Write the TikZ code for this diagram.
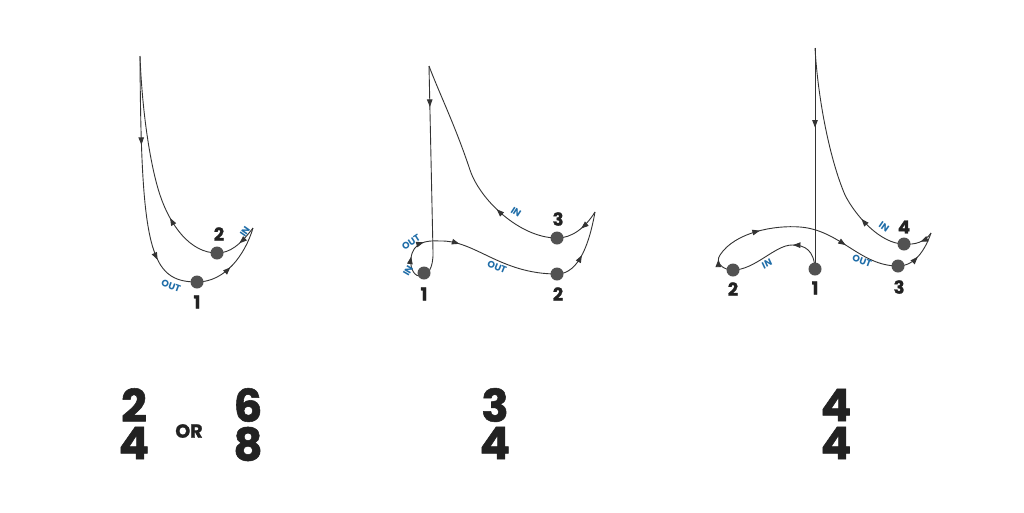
\documentclass[tikz,border=0pt]{standalone}
\usepackage{fontspec}
\setmainfont{Poppins}
\newfontfamily\heavy{Poppins}[BoldFeatures={FakeBold=1.2}]
\usetikzlibrary{arrows.meta,decorations.markings}
\definecolor{ln}{HTML}{333333}
\definecolor{dotc}{HTML}{525252}
\definecolor{lab}{HTML}{1F6DA8}
\definecolor{ink}{HTML}{222222}
\tikzset{
  curve/.style={draw=ln, line width=0.9pt},
  arrat/.style={postaction={decorate,decoration={markings,mark=at position #1 with {\arrow[ln]{Triangle[length=7.5pt,width=5.5pt]}}}}},
  dot/.style={circle, fill=dotc, minimum size=13pt, inner sep=0pt},
  num/.style={text=ink, font=\fontsize{18}{18}\selectfont\heavy\bfseries, inner sep=0pt},
  io/.style={text=lab, font=\fontsize{9.5}{9.5}\selectfont\bfseries, inner sep=0pt},
  big/.style={text=ink, font=\fontsize{45}{45}\selectfont\heavy\bfseries, inner sep=0pt},
  orlab/.style={text=ink, font=\fontsize{19}{19}\selectfont\heavy\bfseries, inner sep=0pt},
}
\begin{document}
\begin{tikzpicture}[x=1pt,y=-1pt]
\useasboundingbox[fill=white] (0,0) rectangle (1024,512);

% ---------- Diagram 1 : 2/4 or 6/8 ----------
\coordinate (aTop) at (140,56);
\coordinate (a1) at (197,282);
\coordinate (a2) at (217,253);
\coordinate (aTip) at (253,228);
\draw[curve, arrat=0.35, arrat=0.81] (aTop) .. controls (141,250) and (150,282) .. (a1);
\draw[curve, arrat=0.45] (a1) .. controls (225,282) and (245,255) .. (aTip);
\draw[curve, arrat=0.45] (aTip) .. controls (240,245) and (230,253) .. (a2);
\draw[curve, arrat=0.27] (a2) .. controls (190,253) and (170,225) .. (160,195)
      .. controls (150,165) and (142,110) .. (aTop);
\node[dot] (a1d) at (a1) {};
\node[dot] (a2d) at (a2) {};
\node[num] (a1n) at (197,302) {1};
\node[num] (a2n) at (219,234) {2};
\node[io, rotate=55] (aIn) at (245,232) {IN};
\node[io, rotate=-20] (aOut) at (171,286) {OUT};

% ---------- Diagram 2 : 3/4 ----------
\coordinate (bTop) at (429,66);
\coordinate (bBend) at (433,252);
\coordinate (bCross) at (440,241);
\coordinate (b1) at (424,273);
\coordinate (b2) at (557,274);
\coordinate (b3) at (557,238);
\coordinate (bTip) at (595,212);
\draw[curve, arrat=0.22] (bTop) -- (bBend);
\draw[curve, arrat=0.6, arrat=0.82] (bBend) .. controls (434,285) and (408,282) .. (411,258)
      .. controls (413,243) and (425,240) .. (bCross);
\draw[curve, arrat=0.16] (bCross) .. controls (475,240) and (500,274) .. (b2);
\draw[curve, arrat=0.42] (b2) .. controls (580,274) and (590,240) .. (bTip);
\draw[curve, arrat=0.45] (bTip) .. controls (585,228) and (572,238) .. (b3);
\draw[curve, arrat=0.3] (b3) .. controls (520,238) and (480,200) .. (470,170)
      .. controls (455,125) and (440,95) .. (bTop);
\node[dot] (b1d) at (b1) {};
\node[dot] (b2d) at (b2) {};
\node[dot] (b3d) at (b3) {};
\node[num] (b1n) at (424,294) {1};
\node[num] (b2n) at (558,294) {2};
\node[num] (b3n) at (558,219) {3};
\node[io, rotate=-33] (bIn) at (516,212) {IN};
\node[io, rotate=-22] (bOut) at (497,267) {OUT};
\node[io, rotate=33] (bOut2) at (411,242) {OUT};
\node[io, rotate=60] (bIn2) at (408,271) {IN};

% ---------- Diagram 3 : 4/4 ----------
\coordinate (cTop) at (815,48);
\coordinate (c1) at (815,269);
\coordinate (c2) at (733,270);
\coordinate (c3) at (898,266);
\coordinate (c4) at (904,244);
\coordinate (cTip) at (931,233);
\draw[curve, arrat=0.36] (cTop) -- (c1);
\draw[curve, arrat=0.36] (c1) .. controls (814,250) and (805,245) .. (792,245)
      .. controls (775,245) and (755,270) .. (c2);
\draw[curve, arrat=0.09, arrat=0.33, arrat=0.74] (c2) .. controls (722,270) and (715,262) .. (720,255)
      .. controls (735,232) and (775,225) .. (800,227)
      .. controls (840,230) and (860,266) .. (c3);
\draw[curve, arrat=0.45] (c3) .. controls (915,266) and (925,250) .. (cTip);
\draw[curve, arrat=0.45] (cTip) .. controls (925,242) and (915,245) .. (c4);
\draw[curve, arrat=0.22] (c4) .. controls (880,244) and (855,215) .. (845,195)
      .. controls (830,160) and (818,100) .. (cTop);
\node[dot] (c1d) at (c1) {};
\node[dot] (c2d) at (c2) {};
\node[dot] (c3d) at (c3) {};
\node[dot] (c4d) at (c4) {};
\node[num] (c1n) at (815,288) {1};
\node[num] (c2n) at (733,289) {2};
\node[num] (c3n) at (899,287) {3};
\node[num] (c4n) at (904,227) {4};
\node[io, rotate=25] (cIn) at (767,264) {IN};
\node[io, rotate=-35] (cIn2) at (884,227) {IN};
\node[io, rotate=-20] (cOut) at (862,261) {OUT};

% ---------- Time signatures ----------
\node[big] (t1a) at (134,405) {2};
\node[big] (t1b) at (134,443) {4};
\node[orlab] (tor) at (189,431) {OR};
\node[big] (t2a) at (248,405) {6};
\node[big] (t2b) at (248,444) {8};
\node[big] (t3a) at (495,405) {3};
\node[big] (t3b) at (495,443) {4};
\node[big] (t4a) at (836,405) {4};
\node[big] (t4b) at (836,443) {4};
\end{tikzpicture}
\end{document}
